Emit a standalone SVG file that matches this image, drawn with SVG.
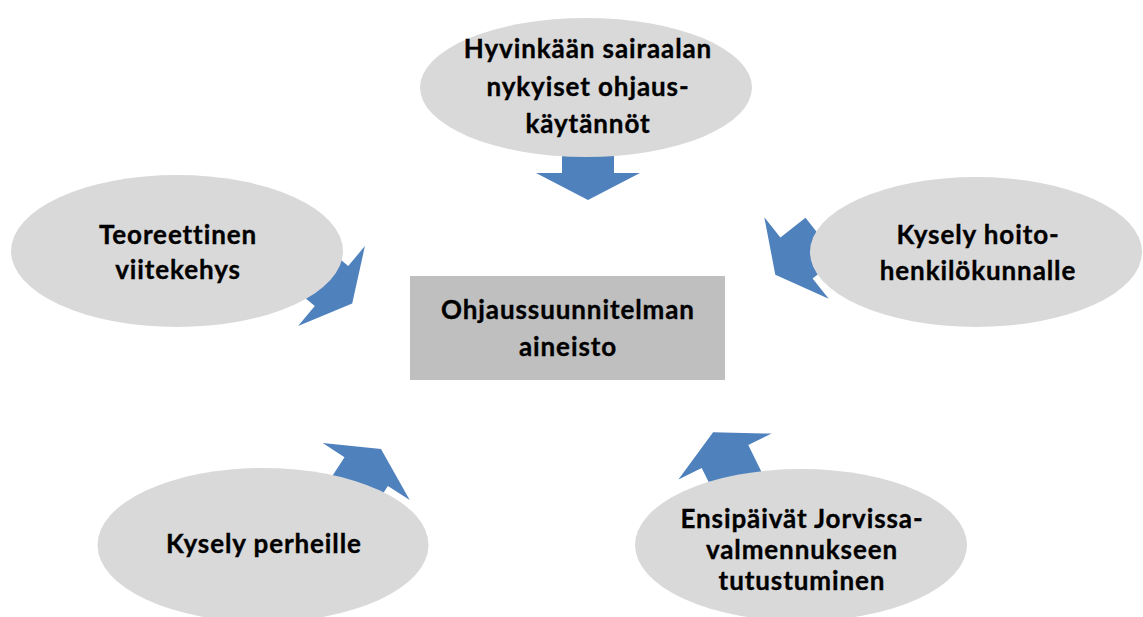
<svg xmlns="http://www.w3.org/2000/svg" width="1143" height="617" viewBox="0 0 1143 617">
<style>
.arr{fill:#4F81BD;stroke:none}
.ell{fill:#D9D9D9;stroke:none}
.box{fill:#BFBFBF;stroke:none}
.t{font-family:Lato,"Open Sans","Liberation Sans",sans-serif;font-weight:700;font-size:26px;letter-spacing:0.9px;fill:#000;stroke:#000;stroke-width:0.35px;text-anchor:middle}
</style>
<rect width="1143" height="617" fill="#fff"/>
<g id="connectors">
<polygon class="arr" points="562,140 562,173 536,173 588,200 640,173 614,173 614,140"/>
<polygon class="arr" points="323.6,245.4 348.2,266 364.9,246.1 352.2,303.4 298.1,325.9 314.8,306 290.2,285.4"/>
<polygon class="arr" points="805.5,217.8 780.4,237.6 764.3,217.2 775.3,274.7 828.7,298.8 812.6,278.4 837.7,258.6"/>
<polygon class="arr" points="327.1,484 344.5,457.3 322.7,443.1 381,449 409.7,500.1 387.9,485.9 370.5,512.6"/>
<polygon class="arr" points="762.4,473.8 748.3,445.1 771.6,433.6 713.1,432.3 678.4,479.4 701.7,467.9 715.8,496.6"/>
</g>
<g id="node-top">
<ellipse class="ell" cx="586" cy="87.5" rx="166" ry="69.5"/>
<text class="t" x="588" y="58">Hyvinkään sairaalan</text>
<text class="t" x="588" y="96">nykyiset ohjaus-</text>
<text class="t" x="588" y="133">käytännöt</text>
</g>
<g id="node-left">
<ellipse class="ell" cx="177" cy="251" rx="166" ry="76"/>
<text class="t" x="178" y="244">Teoreettinen</text>
<text class="t" x="178" y="279">viitekehys</text>
</g>
<g id="node-right">
<ellipse class="ell" cx="976" cy="252" rx="166" ry="75"/>
<text class="t" x="978" y="244">Kysely hoito-</text>
<text class="t" x="978" y="280">henkilökunnalle</text>
</g>
<g id="node-bottom-left">
<ellipse class="ell" cx="263" cy="545" rx="165.5" ry="77"/>
<text class="t" x="264" y="553">Kysely perheille</text>
</g>
<g id="node-bottom-right">
<ellipse class="ell" cx="801" cy="545" rx="166" ry="76"/>
<text class="t" x="802" y="528">Ensipäivät Jorvissa-</text>
<text class="t" x="802" y="559">valmennukseen</text>
<text class="t" x="802" y="590">tutustuminen</text>
</g>
<g id="node-center">
<rect class="box" x="410" y="276" width="315" height="104"/>
<text class="t" x="568" y="319">Ohjaussuunnitelman</text>
<text class="t" x="568" y="356">aineisto</text>
</g>
</svg>
